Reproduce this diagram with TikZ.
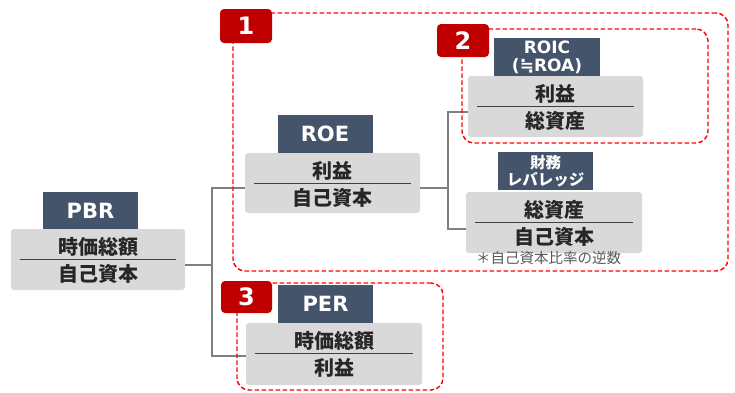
\documentclass[tikz,border=0pt]{standalone}
\usepackage{fontspec}
\setmainfont{Noto Sans CJK JP}
\newfontfamily\latinb{DejaVu Sans}
\usetikzlibrary{calc}
\definecolor{hdr}{HTML}{44546A}
\definecolor{boxg}{HTML}{D9D9D9}
\definecolor{badgec}{HTML}{C00000}
\definecolor{dashred}{HTML}{FF0000}
\definecolor{connc}{HTML}{808080}
\definecolor{txtc}{HTML}{262626}
\definecolor{divc}{HTML}{404040}
\definecolor{notec}{HTML}{595959}
\tikzset{
  fracbox/.style={fill=boxg, rounded corners=3pt, inner sep=0pt, minimum width=175pt, minimum height=61pt},
  hdrbox/.style={fill=hdr, inner sep=0pt, minimum width=95pt, minimum height=38pt, text=white, font=\latinb\bfseries\fontsize{21}{24}\selectfont},
  ftext/.style={text=txtc, inner sep=0pt, font=\bfseries\fontsize{20}{22}\selectfont},
  divline/.style={draw=divc, line width=0.9pt},
  conn/.style={draw=connc, line width=2.4pt},
  zone/.style={draw=dashred, dash pattern=on 4.5pt off 2.5pt, line width=1.4pt, rounded corners=12pt, inner sep=0pt},
  badgebox/.style={fill=badgec, rounded corners=4pt, inner sep=0pt, minimum width=52pt, minimum height=34pt, text=white, font=\latinb\bfseries\fontsize{24}{26}\selectfont},
  notetext/.style={text=notec, inner sep=0pt, font=\fontsize{14.5}{16}\selectfont}
}
\newcommand\fracin[3]{%
  \node[ftext] (#1-n) at ($(#1.north)+(0,18)$) {#2};
  \draw[divline] ($(#1.north west)+(9,31)$) -- ($(#1.north east)+(-9,31)$);
  \node[ftext] (#1-d) at ($(#1.north)+(0,45.5)$) {#3};
}
\begin{document}
\begin{tikzpicture}[x=1pt,y=-1pt]
\useasboundingbox (0,0) rectangle (735,392);
\fill[white] (0,0) rectangle (735,392);

\coordinate (va) at (212,188);
\coordinate (vb) at (212,356);
\coordinate (vc) at (448,112);
\coordinate (vd) at (448,229);

% headers
\node[hdrbox] (pbr-h) at (90.5,211) {PBR};
\node[hdrbox] (roe-h) at (325,134) {ROE};
\node[hdrbox, minimum width=106pt, minimum height=39pt, align=center, font=\latinb\bfseries\fontsize{17}{17.5}\selectfont] (roic-h) at (547,57.5) {ROIC\\(≒ROA)};
\node[hdrbox, align=center, font=\bfseries\fontsize{15.5}{17.5}\selectfont] (lev-h) at (545.5,171) {財務\\レバレッジ};
\node[hdrbox] (per-h) at (325.5,304) {PER};

% fraction boxes
\node[fracbox, minimum width=174pt] (pbr) at (98,259.5) {};
\node[fracbox, minimum height=60pt] (roe) at (332.5,183) {};
\node[fracbox] (roic) at (555.5,106.5) {};
\node[fracbox, minimum width=176pt] (lev) at (554,222.5) {};
\node[fracbox, minimum width=176pt, minimum height=62pt] (per) at (334,354) {};

\fracin{pbr}{時価総額}{自己資本}
\fracin{roe}{利益}{自己資本}
\fracin{roic}{利益}{総資産}
\fracin{lev}{総資産}{自己資本}
\fracin{per}{時価総額}{利益}

\node[notetext, anchor=west] (fn) at (476,258) {＊自己資本比率の逆数};

% connectors
\draw[conn] ([yshift=-5.5pt]pbr.east) -- ++(27,0);
\draw[conn] (roe.west |- va) -- (va) -- (vb) -- (per.west |- vb);
\draw[conn] ([yshift=-5pt]roe.east) -- ++(28,0);
\draw[conn] (roic.west |- vc) -- (vc) -- (vd) -- (lev.west |- vd);

% zones
\node[zone, minimum width=495pt, minimum height=258pt] (z1) at (480.5,142) {};
\node[zone, minimum width=246pt, minimum height=114pt] (z2) at (585,86) {};
\node[zone, minimum width=206pt, minimum height=107pt] (z3) at (340,336.5) {};

% badges
\node[badgebox] (b1) at (246,26) {1};
\node[badgebox, minimum height=33pt] (b2) at (463,40.5) {2};
\node[badgebox, minimum width=51pt, minimum height=32pt] (b3) at (246.5,297) {3};
\end{tikzpicture}
\end{document}
